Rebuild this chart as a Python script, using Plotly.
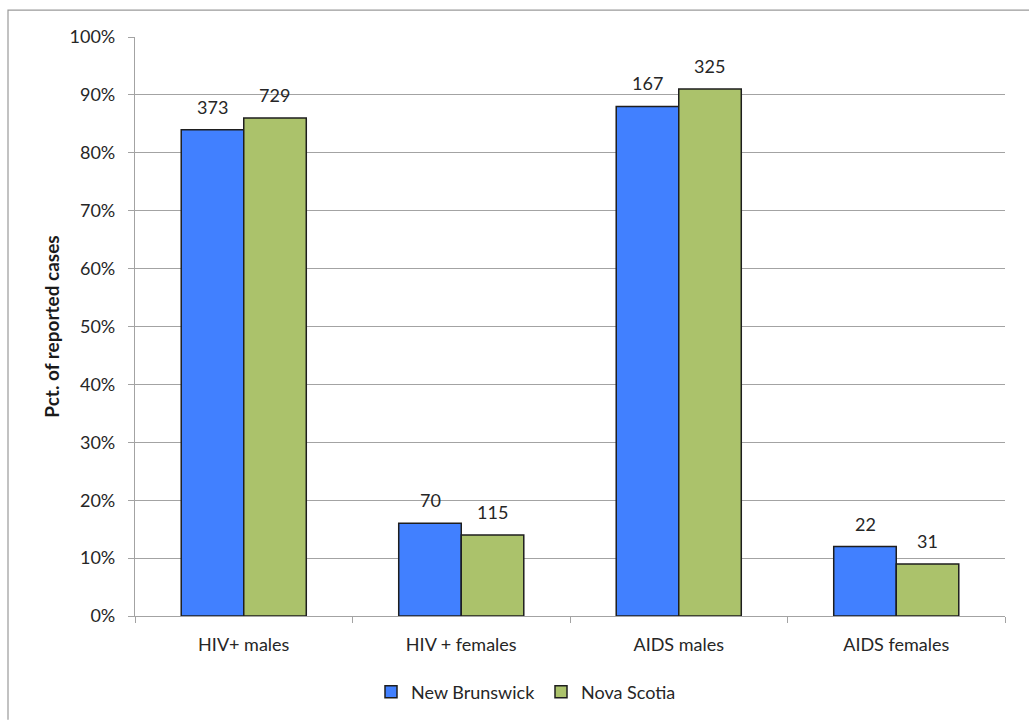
import plotly.graph_objects as go

# Share of reported cases by sex, with case counts shown above each bar
categories = ["HIV+ males", "HIV + females", "AIDS males", "AIDS females"]
nb_pct = [84, 16, 88, 12]
ns_pct = [86, 14, 91, 9]
nb_counts = [373, 70, 167, 22]
ns_counts = [729, 115, 325, 31]
y_ticks = [0, 10, 20, 30, 40, 50, 60, 70, 80, 90, 100]
y_tick_labels = [f"{v}%" for v in y_ticks]

FONT = "Lato, 'Open Sans', sans-serif"
TEXT = "#262626"
GRID = "#A3A3A3"
EDGE = "#1E1E1E"
FS = 18

fig = go.Figure()
fig.add_trace(go.Bar(
    name="New Brunswick", x=categories, y=nb_pct,
    marker=dict(color="#4180FF", line=dict(color=EDGE, width=1.5)),
))
fig.add_trace(go.Bar(
    name="Nova Scotia", x=categories, y=ns_pct,
    marker=dict(color="#ABC26B", line=dict(color=EDGE, width=1.5)),
))

# Count labels above each bar
half = 31
for cat, v, n in zip(categories, nb_pct, nb_counts):
    fig.add_annotation(x=cat, y=v, text=str(n), xref="x", yref="y",
                       xshift=-half, yshift=10, yanchor="bottom", showarrow=False,
                       font=dict(family=FONT, size=FS, color=TEXT))
for cat, v, n in zip(categories, ns_pct, ns_counts):
    fig.add_annotation(x=cat, y=v, text=str(n), xref="x", yref="y",
                       xshift=half, yshift=10, yanchor="bottom", showarrow=False,
                       font=dict(family=FONT, size=FS, color=TEXT))

# Chart frame (top and left edges)
L, R, T, B = 135, 24, 37, 104
W, H = 1029, 721
pw, ph = W - L - R, H - T - B
def px_x(p):
    return (p - L) / pw
def px_y(p):
    return (H - B - p) / ph
fig.add_shape(type="path", xref="paper", yref="paper",
              path=f"M {px_x(8)} {px_y(721)} L {px_x(8)} {px_y(10)} L {px_x(1029)} {px_y(10)}",
              line=dict(color="#9A9A9A", width=1.2))

fig.update_layout(
    width=W, height=H,
    margin=dict(l=L, r=R, t=T, b=B),
    paper_bgcolor="white", plot_bgcolor="white",
    barmode="group", bargap=0.425, bargroupgap=0,
    font=dict(family=FONT, size=FS, color=TEXT),
    showlegend=True,
    legend=dict(orientation="h", x=px_x(371), xanchor="left", y=px_y(692), yanchor="middle",
                font=dict(family=FONT, size=FS, color=TEXT), itemwidth=30,
                entrywidth=125, entrywidthmode="pixels",
                traceorder="normal"),
    xaxis=dict(
        showline=True, linecolor=GRID, linewidth=1.2,
        ticks="outside", tickson="boundaries", ticklen=6, tickcolor=GRID,
        showgrid=False, tickfont=dict(family=FONT, size=FS, color=TEXT),
        ticklabelstandoff=12,
    ),
    yaxis=dict(
        range=[0, 100], tickvals=y_ticks, ticktext=y_tick_labels,
        showline=True, linecolor=GRID, linewidth=1.2,
        ticks="outside", ticklen=6, tickcolor=GRID,
        showgrid=True, gridcolor=GRID, gridwidth=1.2, zeroline=False,
        tickfont=dict(family=FONT, size=FS, color=TEXT),
        ticklabelstandoff=9,
        title=dict(text="<b>Pct. of reported cases</b>", standoff=4,
                   font=dict(family=FONT, size=19, color="#1A1A1A")),
    ),
)

fig.write_html("out.html")
